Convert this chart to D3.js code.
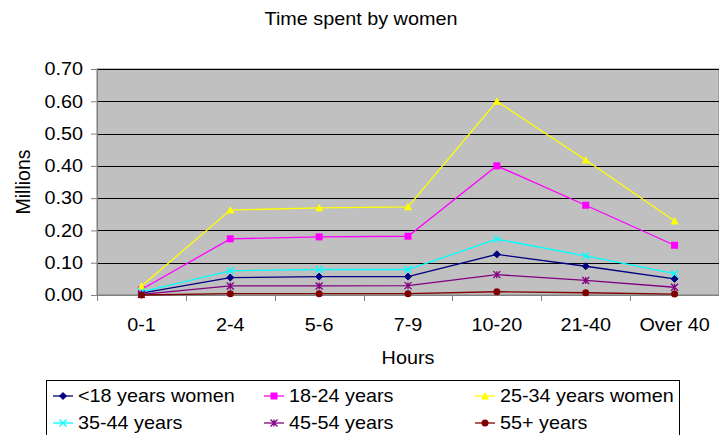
<!DOCTYPE html>
<html><head><meta charset="utf-8">
<script src="https://cdn.jsdelivr.net/npm/d3@7"></script>
<style>
html,body{margin:0;padding:0;background:#fff;}
text{font-family:"Liberation Sans",Arial,sans-serif;fill:#000;}
</style></head>
<body><svg id="c" width="719" height="435"></svg>
<script>
const categories = ["0-1","2-4","5-6","7-9","10-20","21-40","Over 40"];
const seriesNames = ["<18 years women","18-24 years","25-34 years women","35-44 years","45-54 years","55+ years"];
const under18 = [0.006,0.054,0.057,0.057,0.126,0.089,0.050];
const y18_24 = [0.017,0.174,0.180,0.182,0.400,0.278,0.154];
const y25_34 = [0.027,0.263,0.270,0.273,0.600,0.418,0.229];
const y35_44 = [0.010,0.075,0.079,0.079,0.173,0.121,0.066];
const y45_54 = [0.002,0.028,0.028,0.029,0.063,0.045,0.024];
const y55plus = [0.000,0.004,0.004,0.004,0.010,0.007,0.003];
const yTicks = [0,0.1,0.2,0.3,0.4,0.5,0.6,0.7];
const colors = ["#000080","#FF00FF","#FFFF00","#00FFFF","#800080","#800000"];
const markers = ["diamond","square","triangle","x","star","circle"];
const seriesValues = [under18,y18_24,y25_34,y35_44,y45_54,y55plus];

const svg = d3.select("#c");
const L=97, R=719, T=69, B=295;
const x = d3.scaleBand().domain(categories).range([L,R]);
const y = d3.scaleLinear().domain([0,0.7]).range([B,T]);
const FS = 18, SX = 1.1;

function stretch(sel){
  sel.each(function(){
    const t=d3.select(this);
    const xv=+(t.attr("x")||0);
    const prev=t.attr("transform")||"";
    t.attr("transform",`${prev} translate(${xv},0) scale(${SX},1) translate(${-xv},0)`);
  });
}

svg.append("text").attr("x",361).attr("y",25).attr("text-anchor","middle").style("font-size",FS+"px").text("Time spent by women").call(stretch);

svg.append("rect").attr("x",L).attr("y",T).attr("width",R-L).attr("height",B-T).attr("fill","#C0C0C0").attr("stroke","#808080");

svg.append("g").selectAll("line").data(yTicks.slice(1)).join("line")
  .attr("x1",L).attr("x2",R).attr("y1",d=>Math.round(y(d))+0.5).attr("y2",d=>Math.round(y(d))+0.5)
  .attr("stroke","#000").attr("stroke-width",1);

const yAxis = svg.append("g").attr("transform",`translate(${L},0)`)
  .call(d3.axisLeft(y).tickValues(yTicks).tickFormat(d3.format(".2f")).tickSize(6).tickPadding(8));
yAxis.select(".domain").attr("stroke","#808080");
yAxis.selectAll(".tick line").attr("stroke","#808080");
yAxis.selectAll("text").style("font-size",FS+"px").call(stretch);

const xAxis = svg.append("g").attr("transform",`translate(0,${B})`)
  .call(d3.axisBottom(x).tickSize(0).tickPadding(23));
xAxis.select(".domain").attr("stroke","#808080");
xAxis.selectAll("text").style("font-size",FS+"px").call(stretch);
svg.append("g").selectAll("line").data(categories).join("line")
  .attr("x1",d=>Math.round(x(d))+0.5).attr("x2",d=>Math.round(x(d))+0.5).attr("y1",B).attr("y2",B+6).attr("stroke","#808080");

svg.append("text").attr("x",(L+R)/2).attr("y",364).attr("text-anchor","middle").style("font-size",FS+"px").text("Hours").call(stretch);
svg.append("text").attr("transform",`translate(30,${(T+B)/2}) rotate(-90)`).attr("text-anchor","middle").style("font-size","19.5px").text("Millions");

function drawMarker(g, type, color, cx, cy){
  const s=3.5;
  if(type==="diamond") g.append("path").attr("d",`M${cx},${cy-s}L${cx+s},${cy}L${cx},${cy+s}L${cx-s},${cy}Z`).attr("fill",color).attr("stroke",color);
  else if(type==="square") g.append("rect").attr("x",cx-s).attr("y",cy-s).attr("width",2*s).attr("height",2*s).attr("fill",color);
  else if(type==="triangle") g.append("path").attr("d",`M${cx},${cy-s-0.5}L${cx+s+0.5},${cy+s}L${cx-s-0.5},${cy+s}Z`).attr("fill",color);
  else if(type==="x") g.append("path").attr("d",`M${cx-s},${cy-s}L${cx+s},${cy+s}M${cx-s},${cy+s}L${cx+s},${cy-s}`).attr("stroke",color).attr("stroke-width",1.3);
  else if(type==="star") g.append("path").attr("d",`M${cx-s},${cy-s}L${cx+s},${cy+s}M${cx-s},${cy+s}L${cx+s},${cy-s}M${cx},${cy-s}L${cx},${cy+s}`).attr("stroke",color).attr("stroke-width",1.3);
  else if(type==="circle") g.append("circle").attr("cx",cx).attr("cy",cy).attr("r",s).attr("fill",color);
}

const line = d3.line().x((d,i)=>x(categories[i])+x.bandwidth()/2).y(d=>y(d));
seriesValues.forEach((vals,k)=>{
  const g = svg.append("g");
  g.append("path").attr("d",line(vals)).attr("fill","none").attr("stroke",colors[k]).attr("stroke-width",1.3);
  vals.forEach((v,i)=>drawMarker(g,markers[k],colors[k],x(categories[i])+x.bandwidth()/2,y(v)));
});

// legend
svg.append("rect").attr("x",46.5).attr("y",380.5).attr("width",633).attr("height",70).attr("fill","#fff").attr("stroke","#000");
const colX=[53,264,475], rowY=[396,423];
seriesNames.forEach((n,k)=>{
  const cx=colX[k%3], cy=rowY[Math.floor(k/3)];
  const g=svg.append("g");
  g.append("line").attr("x1",cx).attr("x2",cx+20).attr("y1",cy).attr("y2",cy).attr("stroke",colors[k]).attr("stroke-width",1.3);
  drawMarker(g,markers[k],colors[k],cx+10,cy);
  g.append("text").attr("x",cx+25).attr("y",cy+6).style("font-size",FS+"px").text(n).call(stretch);
});
</script></body></html>
